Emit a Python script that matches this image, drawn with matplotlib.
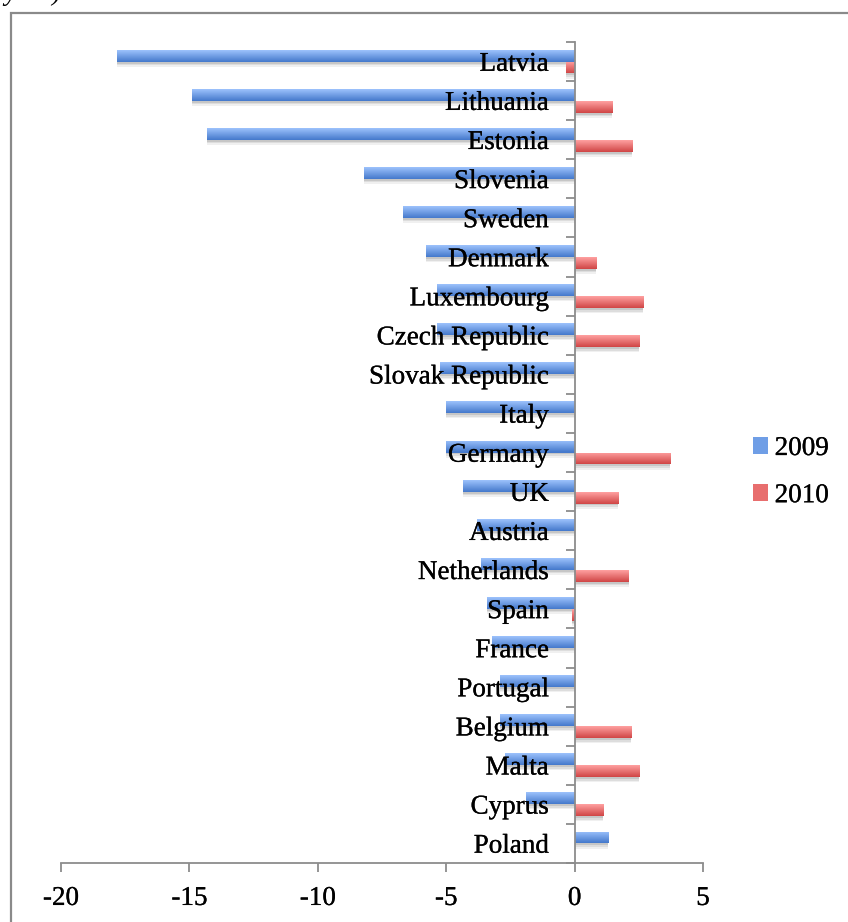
import numpy as np
import matplotlib
matplotlib.use('Agg')
import matplotlib.pyplot as plt
import matplotlib.patheffects as pe
from matplotlib.patches import Rectangle, Patch

plt.rcParams['font.family'] = ['Liberation Serif', 'DejaVu Serif']
plt.rcParams['axes.unicode_minus'] = False

# data, top to bottom as in the chart
countries = ['Latvia', 'Lithuania', 'Estonia', 'Slovenia', 'Sweden', 'Denmark',
             'Luxembourg', 'Czech Republic', 'Slovak Republic', 'Italy', 'Germany',
             'UK', 'Austria', 'Netherlands', 'Spain', 'France', 'Portugal',
             'Belgium', 'Malta', 'Cyprus', 'Poland']
v2009 = [-17.8, -14.9, -14.3, -8.2, -6.7, -5.8, -5.35, -5.35, -5.25, -5.0, -5.0,
         -4.35, -3.8, -3.65, -3.4, -3.2, -2.9, -2.9, -2.7, -1.9, 1.3]
v2010 = [-0.35, 1.45, 2.25, 0.0, 0.0, 0.85, 2.65, 2.5, 0.0, 0.0, 3.7,
         1.7, 0.0, 2.1, -0.1, 0.0, 0.0, 2.2, 2.5, 1.1, 0.0]
series = ['2009', '2010']
xticks = [-20, -15, -10, -5, 0, 5]

W, H = 848, 922
fig = plt.figure(figsize=(W / 100, H / 100), dpi=100)
heavy = [pe.withStroke(linewidth=0.2, foreground='black')]

# outer frame (cropped chart border)
fig.patches.append(Rectangle((11 / W, -0.1), 1.2, 1 - 13 / H + 0.1, transform=fig.transFigure,
                             fill=False, edgecolor='#8a8a8a', linewidth=1.6))
# cropped caption above the chart
fig.text(4 / W, 1 - 0.5 / H, 'year)', fontsize=19.5, style='italic', va='baseline', ha='left')

ax = fig.add_axes([61 / W, (H - 863) / H, (703 - 61) / W, (863 - 42) / H])

n = len(countries)
ypos = np.arange(n)[::-1]
bh = 0.305
grey = '#8c8c8c'

cols = {'2009': ('#9cc2fc', '#4579cc'), '2010': ('#ffa0a0', '#d04646')}

def draw_series(vals, offset, name):
    top, bot = cols[name]
    c1 = np.array(matplotlib.colors.to_rgb(top))
    c2 = np.array(matplotlib.colors.to_rgb(bot))
    t = np.linspace(0, 1, 32)[:, None]
    grad = (c1 * (1 - t) + c2 * t)[:, None, :]
    # soft shadow
    for k, a in [(0.05, 0.10), (0.09, 0.08), (0.13, 0.06)]:
        ax.barh(ypos + offset - k, vals, height=bh, align='edge',
                color='black', alpha=a, linewidth=0, zorder=1)
    bars = ax.barh(ypos + offset, vals, height=bh, align='edge', color=bot,
                   linewidth=0, zorder=2)
    for b in bars:
        x0, y0 = b.get_x(), b.get_y()
        w, h = b.get_width(), b.get_height()
        if w == 0:
            continue
        im = ax.imshow(grad, extent=[min(x0, x0 + w), max(x0, x0 + w), y0, y0 + h],
                       aspect='auto', zorder=3, interpolation='bilinear', origin='upper')
        im.set_clip_path(b)
    return bars

draw_series(v2009, 0.0, '2009')
draw_series(v2010, -bh, '2010')

for y, c in zip(ypos, countries):
    ax.text(-1.0, y - 0.07, c, ha='right', va='center', fontsize=19.5, zorder=5,
            path_effects=heavy)

ax.set_xlim(-20, 5)
ax.set_ylim(-0.5, n - 0.5)
ax.set_xticks(xticks)
ax.set_xticklabels([str(v) for v in xticks])
ax.set_yticks(np.arange(n + 1) - 0.5)
ax.set_yticklabels([])
ax.spines['left'].set_position(('data', 0))
ax.spines['top'].set_visible(False)
ax.spines['right'].set_visible(False)
for s in ['left', 'bottom']:
    ax.spines[s].set_color(grey)
    ax.spines[s].set_linewidth(1.3)
    ax.spines[s].set_zorder(6)
ax.tick_params(axis='both', direction='out', length=6.5, width=1.3, color=grey)
ax.tick_params(axis='x', labelsize=19.5, pad=10)
for lab in ax.get_xticklabels():
    lab.set_path_effects(heavy)
ax.patch.set_alpha(0)

handles = [Patch(facecolor='#6f9ee6', edgecolor='none'),
           Patch(facecolor='#e86e6e', edgecolor='none')]
leg = ax.legend(handles, series, loc='upper left', bbox_to_anchor=(753 / W, 1 - 436 / H),
                bbox_transform=fig.transFigure, frameon=False, fontsize=19.5,
                handlelength=0.55, handleheight=0.55, handletextpad=0.25,
                labelspacing=0.82, borderpad=0, borderaxespad=0)
for tx in leg.get_texts():
    tx.set_path_effects(heavy)

fig.savefig('out.png', dpi=100)
